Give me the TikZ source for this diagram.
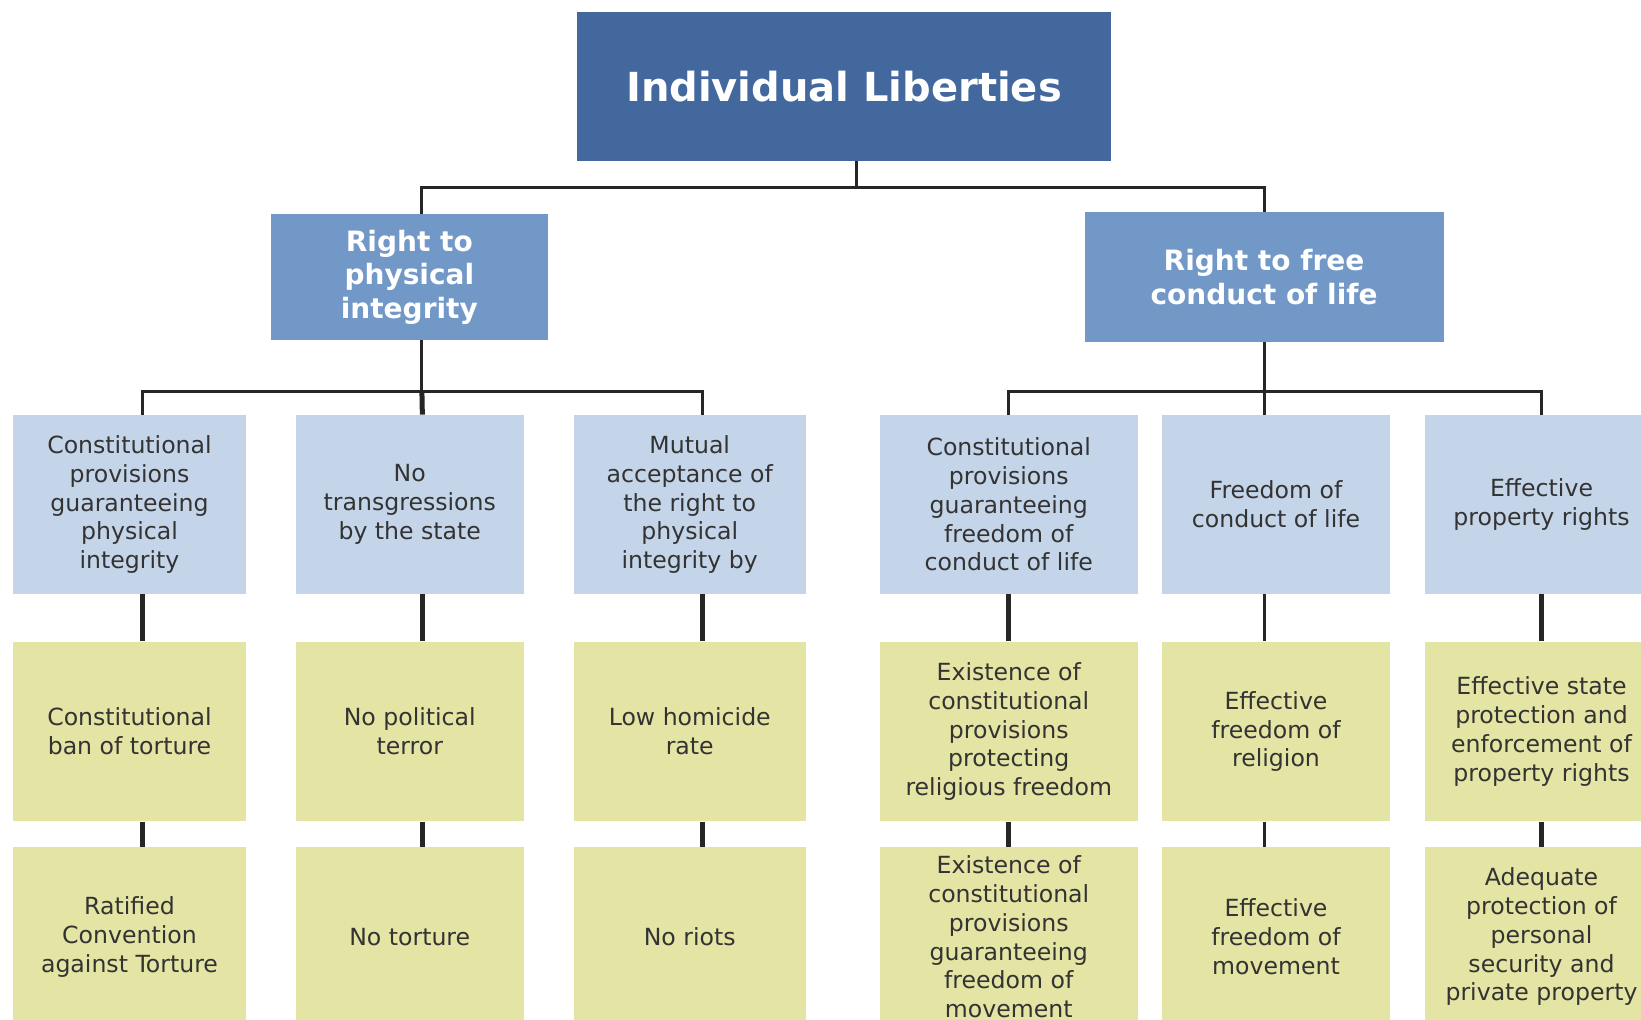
\documentclass[tikz,border=0pt]{standalone}
\usepackage{fontspec}
\setmainfont{DejaVu Sans}
\usepackage{tikz}
\usetikzlibrary{positioning}

\definecolor{rootblue}{HTML}{42689E}
\definecolor{midblue}{HTML}{7298C7}
\definecolor{paleblue}{HTML}{C5D5E9}
\definecolor{paleolive}{HTML}{E4E4A4}
\definecolor{inkgray}{HTML}{333333}

\begin{document}
\begin{tikzpicture}[x=0.5pt, y=-0.5pt,
    box/.style={rectangle, inner sep=3pt, align=center},
    root node/.style={box, fill=rootblue, text=white, font=\bfseries\fontsize{20}{24}\selectfont},
    right node/.style={box, fill=midblue, text=white, font=\bfseries\fontsize{14}{16.7}\selectfont},
    cat node/.style={box, fill=paleblue, text=inkgray, minimum height=89.5pt, font=\fontsize{11.8}{14.4}\selectfont},
    ind node/.style={box, fill=paleolive, text=inkgray, minimum height=89.75pt, font=\fontsize{11.8}{14.4}\selectfont},
    link/.style={draw=black!85, line width=1.5pt},
    heavy link/.style={draw=black!85, line width=2.5pt}]
    \useasboundingbox (0,0) rectangle (1641,1019);
    \clip (0,0) rectangle (1641,1019);

    \node[root node, minimum width=267pt, minimum height=74.5pt] (root) at (844,86.5) {Individual Liberties};
    \node[right node, minimum width=138.3pt, minimum height=63pt] (phys) at (409.3,277) {Right to\\physical\\integrity};
    \node[right node, minimum width=179.5pt, minimum height=65pt] (free) at (1264,277) {Right to free\\conduct of life};

    % categories
    \node[cat node, minimum width=116.5pt] (a3) at (129.5,504.5) {Constitutional\\provisions\\guaranteeing\\physical\\integrity};
    \node[cat node, minimum width=114.25pt] (b3) at (409.75,504.5) {No\\transgressions\\by the state};
    \node[cat node, minimum width=115.75pt] (c3) at (689.75,504.5) {Mutual\\acceptance of\\the right to\\physical\\integrity by};
    \node[cat node, minimum width=128.75pt] (d3) at (1008.75,504.5) {Constitutional\\provisions\\guaranteeing\\freedom of\\conduct of life};
    \node[cat node, minimum width=114pt] (e3) at (1276,504.5) {Freedom of\\conduct of life};
    \node[cat node, minimum width=116.5pt] (f3) at (1541.5,504.5) {Effective\\property rights};

    % indicators
    \node[ind node, minimum width=116.5pt, below=23.5pt of a3] (a4) {Constitutional\\ban of torture};
    \node[ind node, minimum width=114.25pt, below=23.5pt of b3] (b4) {No political\\terror};
    \node[ind node, minimum width=115.75pt, below=23.5pt of c3] (c4) {Low homicide\\rate};
    \node[ind node, minimum width=128.75pt, below=23.5pt of d3] (d4) {Existence of\\constitutional\\provisions\\protecting\\religious freedom};
    \node[ind node, minimum width=114pt, below=23.5pt of e3] (e4) {Effective\\freedom of\\religion};
    \node[ind node, minimum width=116.5pt, below=23.5pt of f3] (f4) {Effective state\\protection and\\enforcement of\\property rights};

    \node[ind node, minimum width=116.5pt, below=12.5pt of a4] (a5) {Ratified\\Convention\\against Torture};
    \node[ind node, minimum width=114.25pt, below=12.5pt of b4] (b5) {No torture};
    \node[ind node, minimum width=115.75pt, below=12.5pt of c4] (c5) {No riots};
    \node[ind node, minimum width=128.75pt, below=12.5pt of d4] (d5) {Existence of\\constitutional\\provisions\\guaranteeing\\freedom of\\movement};
    \node[ind node, minimum width=114pt, below=12.5pt of e4] (e5) {Effective\\freedom of\\movement};
    \node[ind node, minimum width=116.5pt, below=12.5pt of f4] (f5) {Adequate\\protection of\\personal\\security and\\private property};

    % tree links
    \draw[link] ([xshift=6.3pt]root.south) -- ++(0,26) coordinate (rootjoin);
    \draw[link] ([xshift=6.3pt]phys.north) |- (rootjoin) -| (free.north);

    \draw[link] ([xshift=6.3pt]phys.south) -- ++(0,51) coordinate (physjoin);
    \draw[link] ([xshift=6.3pt]a3.north) |- (physjoin) -| ([xshift=6.3pt]c3.north);
    \draw[heavy link] (physjoin) -- ([xshift=6.3pt]b3.north);

    \draw[link] (free.south) -- ++(0,49) coordinate (freejoin);
    \draw[link] (d3.north) |- (freejoin) -| (f3.north);
    \draw[link] (freejoin) -- (freejoin |- e3.north);

    \draw[heavy link] ([xshift=6.3pt]a3.south) -- ([xshift=6.3pt]a4.north)
                      ([xshift=6.3pt]a4.south) -- ([xshift=6.3pt]a5.north)
                      ([xshift=6.3pt]b3.south) -- ([xshift=6.3pt]b4.north)
                      ([xshift=6.3pt]b4.south) -- ([xshift=6.3pt]b5.north)
                      ([xshift=6.3pt]c3.south) -- ([xshift=6.3pt]c4.north)
                      ([xshift=6.3pt]c4.south) -- ([xshift=6.3pt]c5.north)
                      (d3) -- (d4) (d4) -- (d5)
                      (f3) -- (f4) (f4) -- (f5);
    \draw[link] ([xshift=-6pt]e3.south) -- ([xshift=-6pt]e4.north)
                ([xshift=-6pt]e4.south) -- ([xshift=-6pt]e5.north);
\end{tikzpicture}
\end{document}
